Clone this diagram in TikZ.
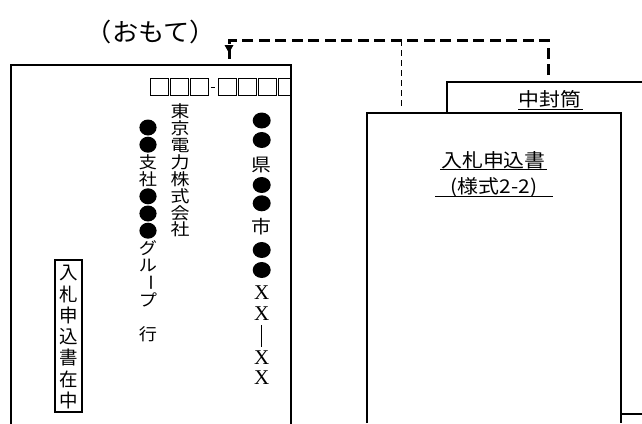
\documentclass[tikz,border=0pt]{standalone}
\usepackage{fontspec}
\usepackage{graphicx}
\newfontfamily\jp{Noto Sans CJK JP}
\newfontfamily\lserif{Liberation Serif}
\usetikzlibrary{arrows.meta}
\tikzset{
  envline/.style={line width=1.4pt, line cap=rect},
  paperline/.style={line width=2pt},
  thickdash/.style={line width=3pt, dash pattern=on 11pt off 5.5pt},
  thindash/.style={line width=1pt, dash pattern=on 6pt off 4pt},
  pcbox/.style={line width=0.9pt},
  addrchar/.style={inner sep=0pt, anchor=center, font=\jp\fontsize{18}{18}\selectfont, xscale=1.1},
  serchar/.style={inner sep=0pt, anchor=center, font=\lserif\fontsize{21}{21}\selectfont},
  midchar/.style={inner sep=0pt, anchor=center, font=\jp\fontsize{16.5}{16.5}\selectfont, xscale=1.15},
  grpchar/.style={inner sep=0pt, anchor=center, font=\jp\fontsize{16.5}{16.5}\selectfont, xscale=1.1},
  boxchar/.style={inner sep=0pt, anchor=center, font=\jp\fontsize{18.5}{18.5}\selectfont},
  ultext/.style={inner sep=0pt, font=\jp\fontsize{19}{21}\selectfont, xscale=1.1},
}
\begin{document}
\begin{tikzpicture}[x=1pt,y=-1pt]
\useasboundingbox (0,0) rectangle (642,423);
% title
\node[inner sep=0pt, font=\jp\fontsize{25}{27}\selectfont, xscale=1.05] (title) at (151,32) {（おもて）};
% left envelope
\draw[envline] (11,423) -- (11,65) -- (291,65) -- (291,423);
% postal code boxes
\foreach \x in {150,170,190,218.3,238.3,258.3}{
  \draw[pcbox] (\x,78) rectangle ++(18.3,17);
}
\draw[pcbox] (291,78) -- (278.3,78) -- (278.3,95) -- (291,95);
\draw[line width=0.7pt] (210.5,87.5) -- (215,87.5);
% address column (right)
\foreach \y in {120.5,140,185,203.3,250,270}
  \fill (261.7,\y) ellipse [x radius=9pt, y radius=8pt];
\node[addrchar] (ken) at (261.7,165) {県};
\node[addrchar] (shi) at (261.7,226.7) {市};
\foreach \y [count=\i] in {292.5,314,357.5,378}
  \node[serchar] (x\i) at (261.7,\y) {X};
\draw[line width=0.8pt] (261.7,325) -- (261.7,347);
% company column
\foreach \c [count=\i from 0] in {東,京,電,力,株,式,会,社}
  \node[midchar] (m\i) at (180,111.4+16.9*\i) {\c};
% group column
\foreach \k in {0,1,4,5,6}
  \fill (148,127.5+17.2*\k) ellipse [x radius=8.6pt, y radius=8pt];
\node[grpchar] (g2) at (148,127.5+17.2*2) {支};
\node[grpchar] (g3) at (148,127.5+17.2*3) {社};
\node[grpchar] (g7) at (148,127.5+17.2*7) {グ};
\node[grpchar] (g8) at (148,127.5+17.2*8) {ル};
\node[grpchar] (g9) at (148,127.5+17.2*9) {\rotatebox[origin=c]{-90}{ー}};
\node[grpchar] (g10) at (148,127.5+17.2*10) {プ};
\node[grpchar] (g12) at (148,127.5+17.2*12) {行};
% 入札申込書在中 box
\node[draw, line width=1.6pt, minimum width=27pt, minimum height=152pt, inner sep=0pt] (zaichu) at (68.5,336) {};
\foreach \c [count=\i from 0] in {入,札,申,込,書,在,中}
  \node[boxchar] (z\i) at (68.5,273.5+21.1*\i) {\c};
% middle envelope
\draw[paperline] (447,113) -- (447,82) -- (642,82);
\draw[paperline] (621,414) -- (642,414);
\node[ultext] (naka) at (550,99) {中封筒};
\draw[line width=0.9pt] (518,109) -- (583,109);
% front paper
\draw[paperline] (367,423) -- (367,113) -- (621,113) -- (621,423);
\node[ultext] (nyu) at (493.5,160) {入札申込書};
\draw[line width=0.9pt] (440,169.5) -- (547,169.5);
\node[ultext] (yoshiki) at (494,187) {(様式2-2)};
\draw[line width=0.9pt] (435,196) -- (553,196);
% connectors
\coordinate (midtop) at (548,75);
\coordinate (corner) at (548,40);
\coordinate (arrowend) at (229,53);
\coordinate (papertop) at (401,107);
\coordinate (branch) at (401,40);
\draw[thickdash] (midtop) -- (corner) -- (229,40) -- ([yshift=-6pt]arrowend);
\fill (224.5,45) -- (233.5,45) -- (arrowend) -- cycle;
\draw[thindash] (branch) -- (papertop);
\end{tikzpicture}
\end{document}
